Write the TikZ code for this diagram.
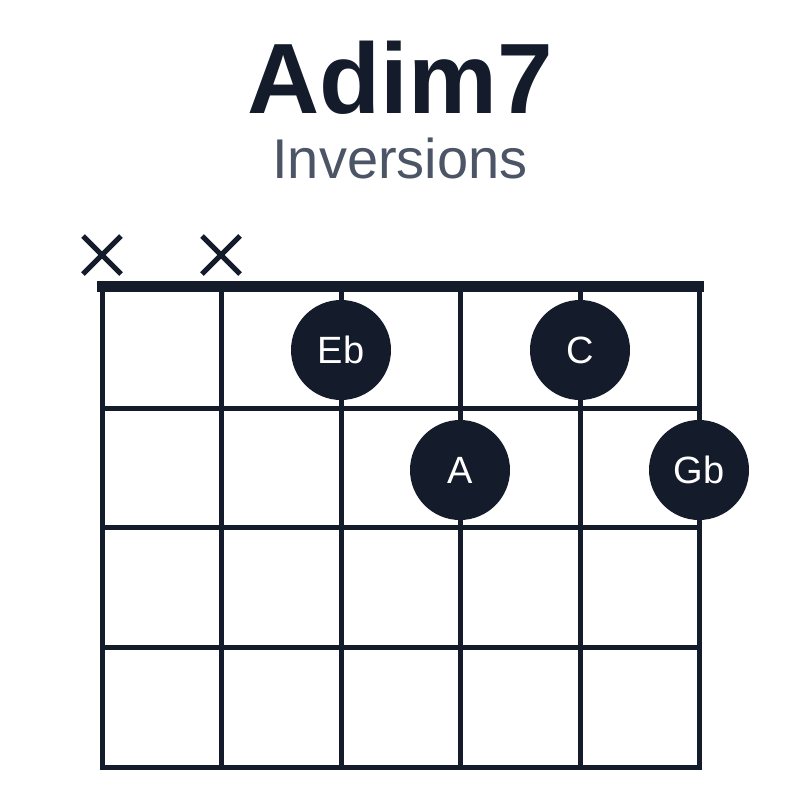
\documentclass[tikz,border=0pt]{standalone}
\usepackage{fontspec}
\setmainfont{Liberation Sans}
\definecolor{ink}{HTML}{141B2B}
\definecolor{sub}{HTML}{4B5565}
\begin{document}
\begin{tikzpicture}[x=1pt,y=-1pt,
  grid/.style={ink,line width=5pt},
  dot/.style={circle,fill=ink,minimum size=100pt,inner sep=0pt,text=white,font=\fontsize{38}{38}\selectfont},
  mute/.style={ink,line width=5pt}]
\useasboundingbox (0,0) rectangle (800,800);
\node[font=\bfseries\fontsize{100}{100}\selectfont,text=ink] (title) at (400,78) {Adim7};
\node[font=\fontsize{56}{56}\selectfont,text=sub] (sub) at (400,158) {Inversions};
\foreach \x in {102,221,341,460,580,699} \draw[grid] (\x,287) -- (\x,769.5);
\foreach \y in {408,527,647,767} \draw[grid] (99.5,\y) -- (701.5,\y);
\draw[ink,line width=11pt] (97,286) -- (704,286);
\foreach \x in {102,221} {
  \draw[mute] (\x-19,236) -- (\x+19,274);
  \draw[mute] (\x-19,274) -- (\x+19,236);
}
\node[dot] (eb) at (341,350) {Eb};
\node[dot] (c) at (580,350) {C};
\node[dot] (a) at (460,470) {A};
\node[dot] (gb) at (699,470) {Gb};
\end{tikzpicture}
\end{document}
